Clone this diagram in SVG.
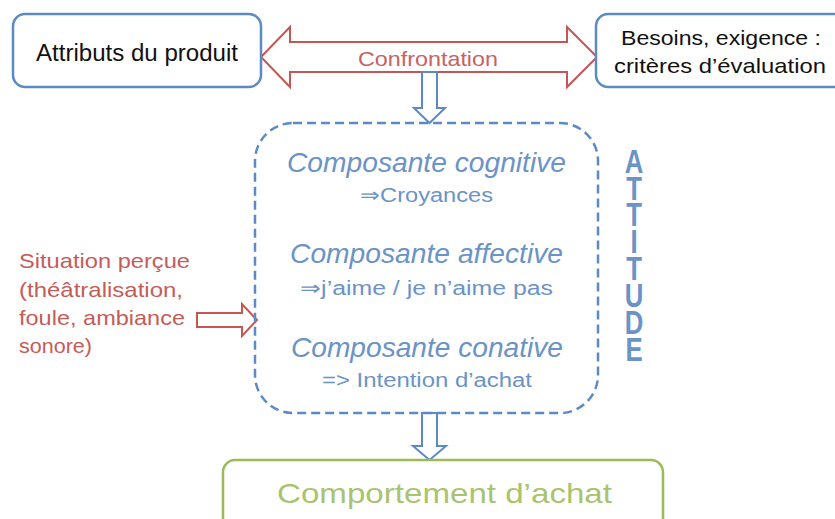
<svg xmlns="http://www.w3.org/2000/svg" width="835" height="519" viewBox="0 0 835 519">
<style>
  .t { font-family: "Liberation Sans", Arial, sans-serif; }
  .box { fill: #ffffff; stroke: #5b8ac4; stroke-width: 2.5; }
  .black { fill: #111111; font-size: 23px; }
  .blue { fill: #6b93c7; }
  .red { fill: #c65c59; font-size: 21px; }
  .arrowBlue { fill: #ffffff; stroke: #5b8ac4; stroke-width: 2; stroke-linejoin: miter; }
  .arrowRed { fill: #ffffff; stroke: #c65653; stroke-width: 2; stroke-linejoin: miter; }
</style>
<rect width="835" height="519" fill="#ffffff"/>

<g id="connectors">
  <polygon class="arrowRed" points="261,57 290,27 290,42 567,42 567,27 597,57 567,87 567,72 290,72 290,87"/>
  <polygon class="arrowBlue" points="422,72 437,72 437,108 445,108 429.5,123 414,108 422,108"/>
  <polygon class="arrowBlue" points="422,413 437,413 437,446 446,446 429.5,460 413,446 422,446"/>
  <polygon class="arrowRed" points="197,313 242,313 242,304 257,320 242,336 242,327 197,327"/>
  <text class="t red" x="358" y="66" textLength="140" lengthAdjust="spacingAndGlyphs" style="fill:#c8625f">Confrontation</text>
</g>

<g id="attributs">
  <rect class="box" x="13" y="14" width="248" height="73" rx="12"/>
  <text class="t black" x="36" y="61" textLength="202" lengthAdjust="spacingAndGlyphs">Attributs du produit</text>
</g>

<g id="besoins">
  <rect class="box" x="596" y="14" width="260" height="73" rx="12"/>
  <text class="t black" x="621" y="45" textLength="200" lengthAdjust="spacingAndGlyphs" style="font-size:21px">Besoins, exigence :</text>
  <text class="t black" x="614" y="73" textLength="212" lengthAdjust="spacingAndGlyphs" style="font-size:21px">critères d’évaluation</text>
</g>

<g id="attitude">
  <rect x="255" y="123" width="343" height="290" rx="38" fill="none" stroke="#5b8ac4" stroke-width="2.5" stroke-dasharray="9 5"/>
  <text class="t blue" x="287" y="172" font-size="28" font-style="italic" textLength="279" lengthAdjust="spacingAndGlyphs">Composante cognitive</text>
  <text class="t blue" x="360" y="202" font-size="20" textLength="133" lengthAdjust="spacingAndGlyphs">⇒Croyances</text>
  <text class="t blue" x="290" y="263" font-size="28" font-style="italic" textLength="273" lengthAdjust="spacingAndGlyphs">Composante affective</text>
  <text class="t blue" x="300" y="295" font-size="20" textLength="253" lengthAdjust="spacingAndGlyphs">⇒j’aime / je n’aime pas</text>
  <text class="t blue" x="291" y="357" font-size="28" font-style="italic" textLength="272" lengthAdjust="spacingAndGlyphs">Composante conative</text>
  <text class="t blue" x="322" y="387" font-size="20" textLength="210" lengthAdjust="spacingAndGlyphs">=&gt; Intention d’achat</text>
</g>

<g id="attitude-label" transform="translate(634,0) scale(0.78,1)">
  <text class="t" font-weight="bold" font-size="33" fill="#6b93c7" text-anchor="middle" x="0 0 0 0 0 0 0 0" y="173 200 226.5 253.5 280 307 334 361">ATTITUDE</text>
</g>

<g id="situation">
  <text class="t red" x="19" y="268" textLength="171" lengthAdjust="spacingAndGlyphs">Situation perçue</text>
  <text class="t red" x="19" y="297" textLength="164" lengthAdjust="spacingAndGlyphs">(théâtralisation,</text>
  <text class="t red" x="19" y="325" textLength="166" lengthAdjust="spacingAndGlyphs">foule, ambiance</text>
  <text class="t red" x="19" y="353" textLength="73" lengthAdjust="spacingAndGlyphs">sonore)</text>
</g>

<g id="comportement">
  <rect x="223" y="460" width="440" height="80" rx="12" fill="#ffffff" stroke="#9bbb59" stroke-width="2.5"/>
  <text class="t" x="277" y="503" font-size="28" fill="#a9c36f" textLength="335" lengthAdjust="spacingAndGlyphs">Comportement d’achat</text>
</g>
</svg>
